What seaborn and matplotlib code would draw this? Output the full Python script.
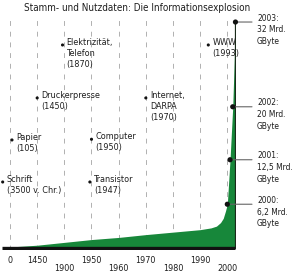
import numpy as np
import matplotlib
matplotlib.use("Agg")
import matplotlib.pyplot as plt
import matplotlib.transforms as mtransforms
from matplotlib import font_manager as fm
import seaborn as sns

# ---------------- data ----------------
tick_years = [0, 1450, 1900, 1950, 1960, 1970, 1980, 1990, 2000]
tick_labels = ["0", "1450", "1900", "1950", "1960", "1970", "1980", "1990", "2000"]

area_years = [-430, 0, 1450, 1900, 1950, 1960, 1970, 1980, 1990, 1994, 1996, 1997.5,
              1998.5, 1999.3, 2000, 2001, 2002, 2003]
area_values = [0.0, 0.15, 0.4, 0.8, 1.2, 1.5, 1.9, 2.25, 2.6, 2.85, 3.1, 3.6,
               4.2, 5.2, 6.2, 12.5, 20.0, 32.0]

point_years = [2000, 2001, 2002, 2003]
point_values = [6.2, 12.5, 20.0, 32.0]
point_labels = ["2000:\n6,2 Mrd.\nGByte", "2001:\n12,5 Mrd.\nGByte",
                "2002:\n20 Mrd.\nGByte", "2003:\n32 Mrd.\nGByte"]

event_years = [-3500, 105, 1450, 1870, 1947, 1950, 1970, 1993]
event_labels = ["Schrift\n(3500 v. Chr.)", "Papier\n(105)", "Druckerpresse\n(1450)",
                "Elektrizität,\nTelefon\n(1870)", "Transistor\n(1947)",
                "Computer\n(1950)", "Internet,\nDARPA\n(1970)", "WWW\n(1993)"]
# vertical placement rows of the annotations (layout only)
event_rows = [9.35, 15.3, 21.25, 28.75, 9.35, 15.4, 21.25, 28.75]

title = "Stamm- und Nutzdaten: Die Informationsexplosion"

# ---------------- style ----------------
sns.set_theme(style="white")

names = {f.name for f in fm.fontManager.ttflist}
cond_dejavu = any(f.name == "DejaVu Sans" and f.stretch in ("condensed", "semi-condensed", 500, 600)
                  for f in fm.fontManager.ttflist)
if "Liberation Sans Narrow" in names:
    FAM, STRETCH, K = ["Liberation Sans Narrow", "DejaVu Sans"], "normal", 1.0
elif cond_dejavu:
    FAM, STRETCH, K = ["DejaVu Sans", "Noto Sans"], "condensed", 0.95
else:
    FAM, STRETCH, K = ["Roboto", "DejaVu Sans"], "normal", 0.85
plt.rcParams["font.family"] = FAM
plt.rcParams["font.stretch"] = STRETCH

GREEN = "#17873a"
TXT = "#1e1e1e"

# piecewise axis: each tick equally spaced
idx = np.arange(len(tick_years), dtype=float)
fx = np.concatenate([[-14500], tick_years, [2100]]).astype(float)
fi = np.concatenate([[-10], idx, [18]])


def fwd(x):
    return np.interp(x, fx, fi)


def inv(i):
    return np.interp(i, fi, fx)


fig = plt.figure(figsize=(3.0, 2.74), dpi=100)
W, H = 300, 274
left_px, right_px, top_px, bot_px = 2, 236, 18, 250
ax = fig.add_axes([left_px / W, 1 - bot_px / H, (right_px - left_px) / W, (bot_px - top_px) / H])
ax.set_xscale("function", functions=(fwd, inv))
xmin = inv(-0.295)
ax.set_xlim(xmin, 2003.2)
ax.set_ylim(-0.28, 32.57)

upper = [0, 1450, 1950, 1970, 1990]
lower = [1900, 1960, 1980, 2000]
ax.set_xticks([y for y in tick_years if y in upper],
              [l for y, l in zip(tick_years, tick_labels) if y in upper])
ax.set_xticks([y for y in tick_years if y in lower],
              [l for y, l in zip(tick_years, tick_labels) if y in lower], minor=True)
ax.set_yticks([])
ax.tick_params(axis="x", which="major", length=0, pad=4.6, labelsize=6.8 * K, colors=TXT)
ax.tick_params(axis="x", which="minor", length=0, pad=10.4, labelsize=6.8 * K, colors=TXT)
ax.grid(True, axis="x", which="both", color="#b0b0b0", lw=0.7, linestyle=(0, (5, 6)))
ax.grid(False, axis="y")
for s in ax.spines.values():
    s.set_visible(False)

# green area
ax.fill_between(area_years, 0, area_values, color=GREEN, lw=0, zorder=2)
ax.plot([2003, 2003], [0, 32], color="#1a2a1a", lw=0.9, zorder=3)
# baseline
ax.plot([xmin, 2003], [0, 0], color="#111111", lw=2.4, solid_capstyle="butt", zorder=4)

# data points
sns.scatterplot(x=point_years, y=point_values, ax=ax, color="#111111", s=14,
                edgecolor="none", zorder=5, clip_on=False, legend=False)
blend = mtransforms.blended_transform_factory(fig.transFigure, ax.transData)
for yr, v, lab in zip(point_years, point_values, point_labels):
    ax.annotate("", xy=(yr, v), xycoords="data", xytext=(252 / W, v), textcoords=blend,
                arrowprops=dict(arrowstyle="-", color="#666666", lw=0.8, shrinkA=0, shrinkB=0),
                annotation_clip=False)
    ax.annotate(lab, xy=(257 / W, v), xycoords=blend, xytext=(0, 8.5), textcoords="offset pixels",
                ha="left", va="top", fontsize=6.3 * K, color=TXT, linespacing=1.4,
                annotation_clip=False)

# events
ev_x = [max(y, inv(-0.27)) for y in event_years]
sns.scatterplot(x=ev_x, y=event_rows, ax=ax, color="#111111", s=5, edgecolor="none",
                zorder=5, clip_on=False, legend=False)
for x, y, lab in zip(ev_x, event_rows, event_labels):
    ax.annotate(lab, xy=(x, y), xytext=(4, 7), textcoords="offset pixels",
                ha="left", va="top", fontsize=6.8 * K, color=TXT, linespacing=1.3,
                annotation_clip=False)

fig.text(137.5 / W, 1 - 8 / H, title, ha="center", va="center", fontsize=7.5 * K, color=TXT)

fig.savefig("out.png", dpi=100, facecolor="white")
